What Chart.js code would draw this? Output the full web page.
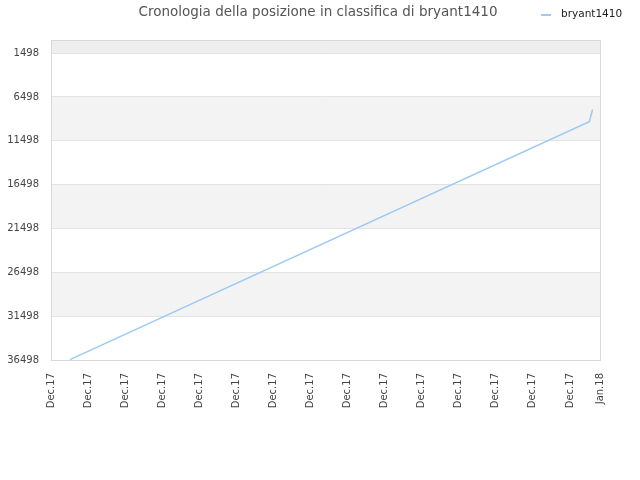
<!DOCTYPE html>
<html><head><meta charset="utf-8">
<script src="https://cdn.jsdelivr.net/npm/chart.js@4"></script>
<style>html,body{margin:0;padding:0;background:#fff}</style>
</head><body>
<canvas id="c" width="640" height="480"></canvas>
<script>
const titleText = 'Cronologia della posizione in classifica di bryant1410';
const seriesName = 'bryant1410';
const xTickValues = [0,1,2,3,4,5,6,7,8,9,10,11,12,13,14,14.81];
const xTickLabels = ['Dec.17','Dec.17','Dec.17','Dec.17','Dec.17','Dec.17','Dec.17','Dec.17','Dec.17','Dec.17','Dec.17','Dec.17','Dec.17','Dec.17','Dec.17','Jan.18'];
const yTickValues = [1498, 6498, 11498, 16498, 21498, 26498, 31498, 36498];
const pointX = [0.51, 14.52, 14.61];
const pointRank = [36450, 9330, 7920];

const FONT = '"DejaVu Sans", sans-serif';
const lineColor = '#9ccaf5';

const bandsPlugin = {
  id: 'bands',
  beforeDraw(chart) {
    const {ctx, chartArea: a, scales: {y}} = chart;
    ctx.save();
    ctx.fillStyle = '#eeeeee';
    const yTop = y.getPixelForValue(y.min), y0 = y.getPixelForValue(yTickValues[0]);
    ctx.fillRect(a.left, yTop, a.right - a.left, y0 - yTop);
    ctx.fillStyle = '#f3f3f3';
    for (let i = 1; i < yTickValues.length - 1; i += 2) {
      const p1 = y.getPixelForValue(yTickValues[i]);
      const p2 = y.getPixelForValue(yTickValues[i + 1]);
      ctx.fillRect(a.left, p1, a.right - a.left, p2 - p1);
    }
    ctx.restore();
  },
  beforeDatasetsDraw(chart) {
    const {ctx, chartArea: a} = chart;
    ctx.save();
    ctx.strokeStyle = '#d9d9d9';
    ctx.lineWidth = 1;
    ctx.strokeRect(Math.round(a.left) + 0.5, Math.round(a.top) + 0.5, Math.round(a.right - a.left), Math.round(a.bottom - a.top));
    ctx.restore();
  },
  afterDraw(chart) {
    const {ctx} = chart;
    ctx.save();
    ctx.fillStyle = '#555555';
    ctx.font = '13.5px ' + FONT;
    ctx.textAlign = 'center';
    ctx.textBaseline = 'middle';
    ctx.fillText(titleText, 318, 12);
    const ds = chart.data.datasets[0];
    ctx.strokeStyle = ds.borderColor;
    ctx.lineWidth = 2;
    ctx.beginPath();
    ctx.moveTo(541, 15);
    ctx.lineTo(551, 15);
    ctx.stroke();
    ctx.fillStyle = '#222222';
    ctx.font = '10.5px ' + FONT;
    ctx.textAlign = 'left';
    ctx.fillText(ds.label, 561, 14);
    ctx.restore();
  }
};

new Chart(document.getElementById('c'), {
  type: 'line',
  data: {
    datasets: [{
      label: seriesName,
      data: pointX.map((x, i) => ({x, y: pointRank[i]})),
      borderColor: lineColor,
      backgroundColor: lineColor,
      borderWidth: 1.5,
      pointRadius: 0,
      tension: 0,
      fill: false
    }]
  },
  options: {
    responsive: false,
    animation: false,
    devicePixelRatio: 1,
    layout: {padding: {top: 40, left: 7, right: 40, bottom: 72}},
    plugins: {legend: {display: false}, title: {display: false}, tooltip: {enabled: false}},
    scales: {
      x: {
        type: 'linear',
        min: 0,
        max: xTickValues[xTickValues.length - 1],
        afterBuildTicks(axis) { axis.ticks = xTickValues.map(v => ({value: v})); },
        afterFit(axis) { axis.paddingLeft = 0; axis.paddingRight = 0; axis.height = 48; },
        grid: {display: false, drawTicks: false},
        border: {display: false},
        ticks: {
          autoSkip: false, minRotation: 90, maxRotation: 90, padding: 13,
          color: '#444444', font: {family: FONT, size: 10},
          callback: (v, i) => xTickLabels[i]
        }
      },
      y: {
        type: 'linear',
        reverse: true,
        min: 0,
        max: yTickValues[yTickValues.length - 1],
        afterBuildTicks(axis) { axis.ticks = yTickValues.map(v => ({value: v})); },
        afterFit(axis) { axis.width = 44; },
        grid: {color: '#e2e2e2', drawTicks: false},
        border: {display: false},
        ticks: {
          padding: 12, color: '#444444', font: {family: FONT, size: 10},
          callback: v => String(v)
        }
      }
    }
  },
  plugins: [bandsPlugin]
});
</script>
</body></html>
